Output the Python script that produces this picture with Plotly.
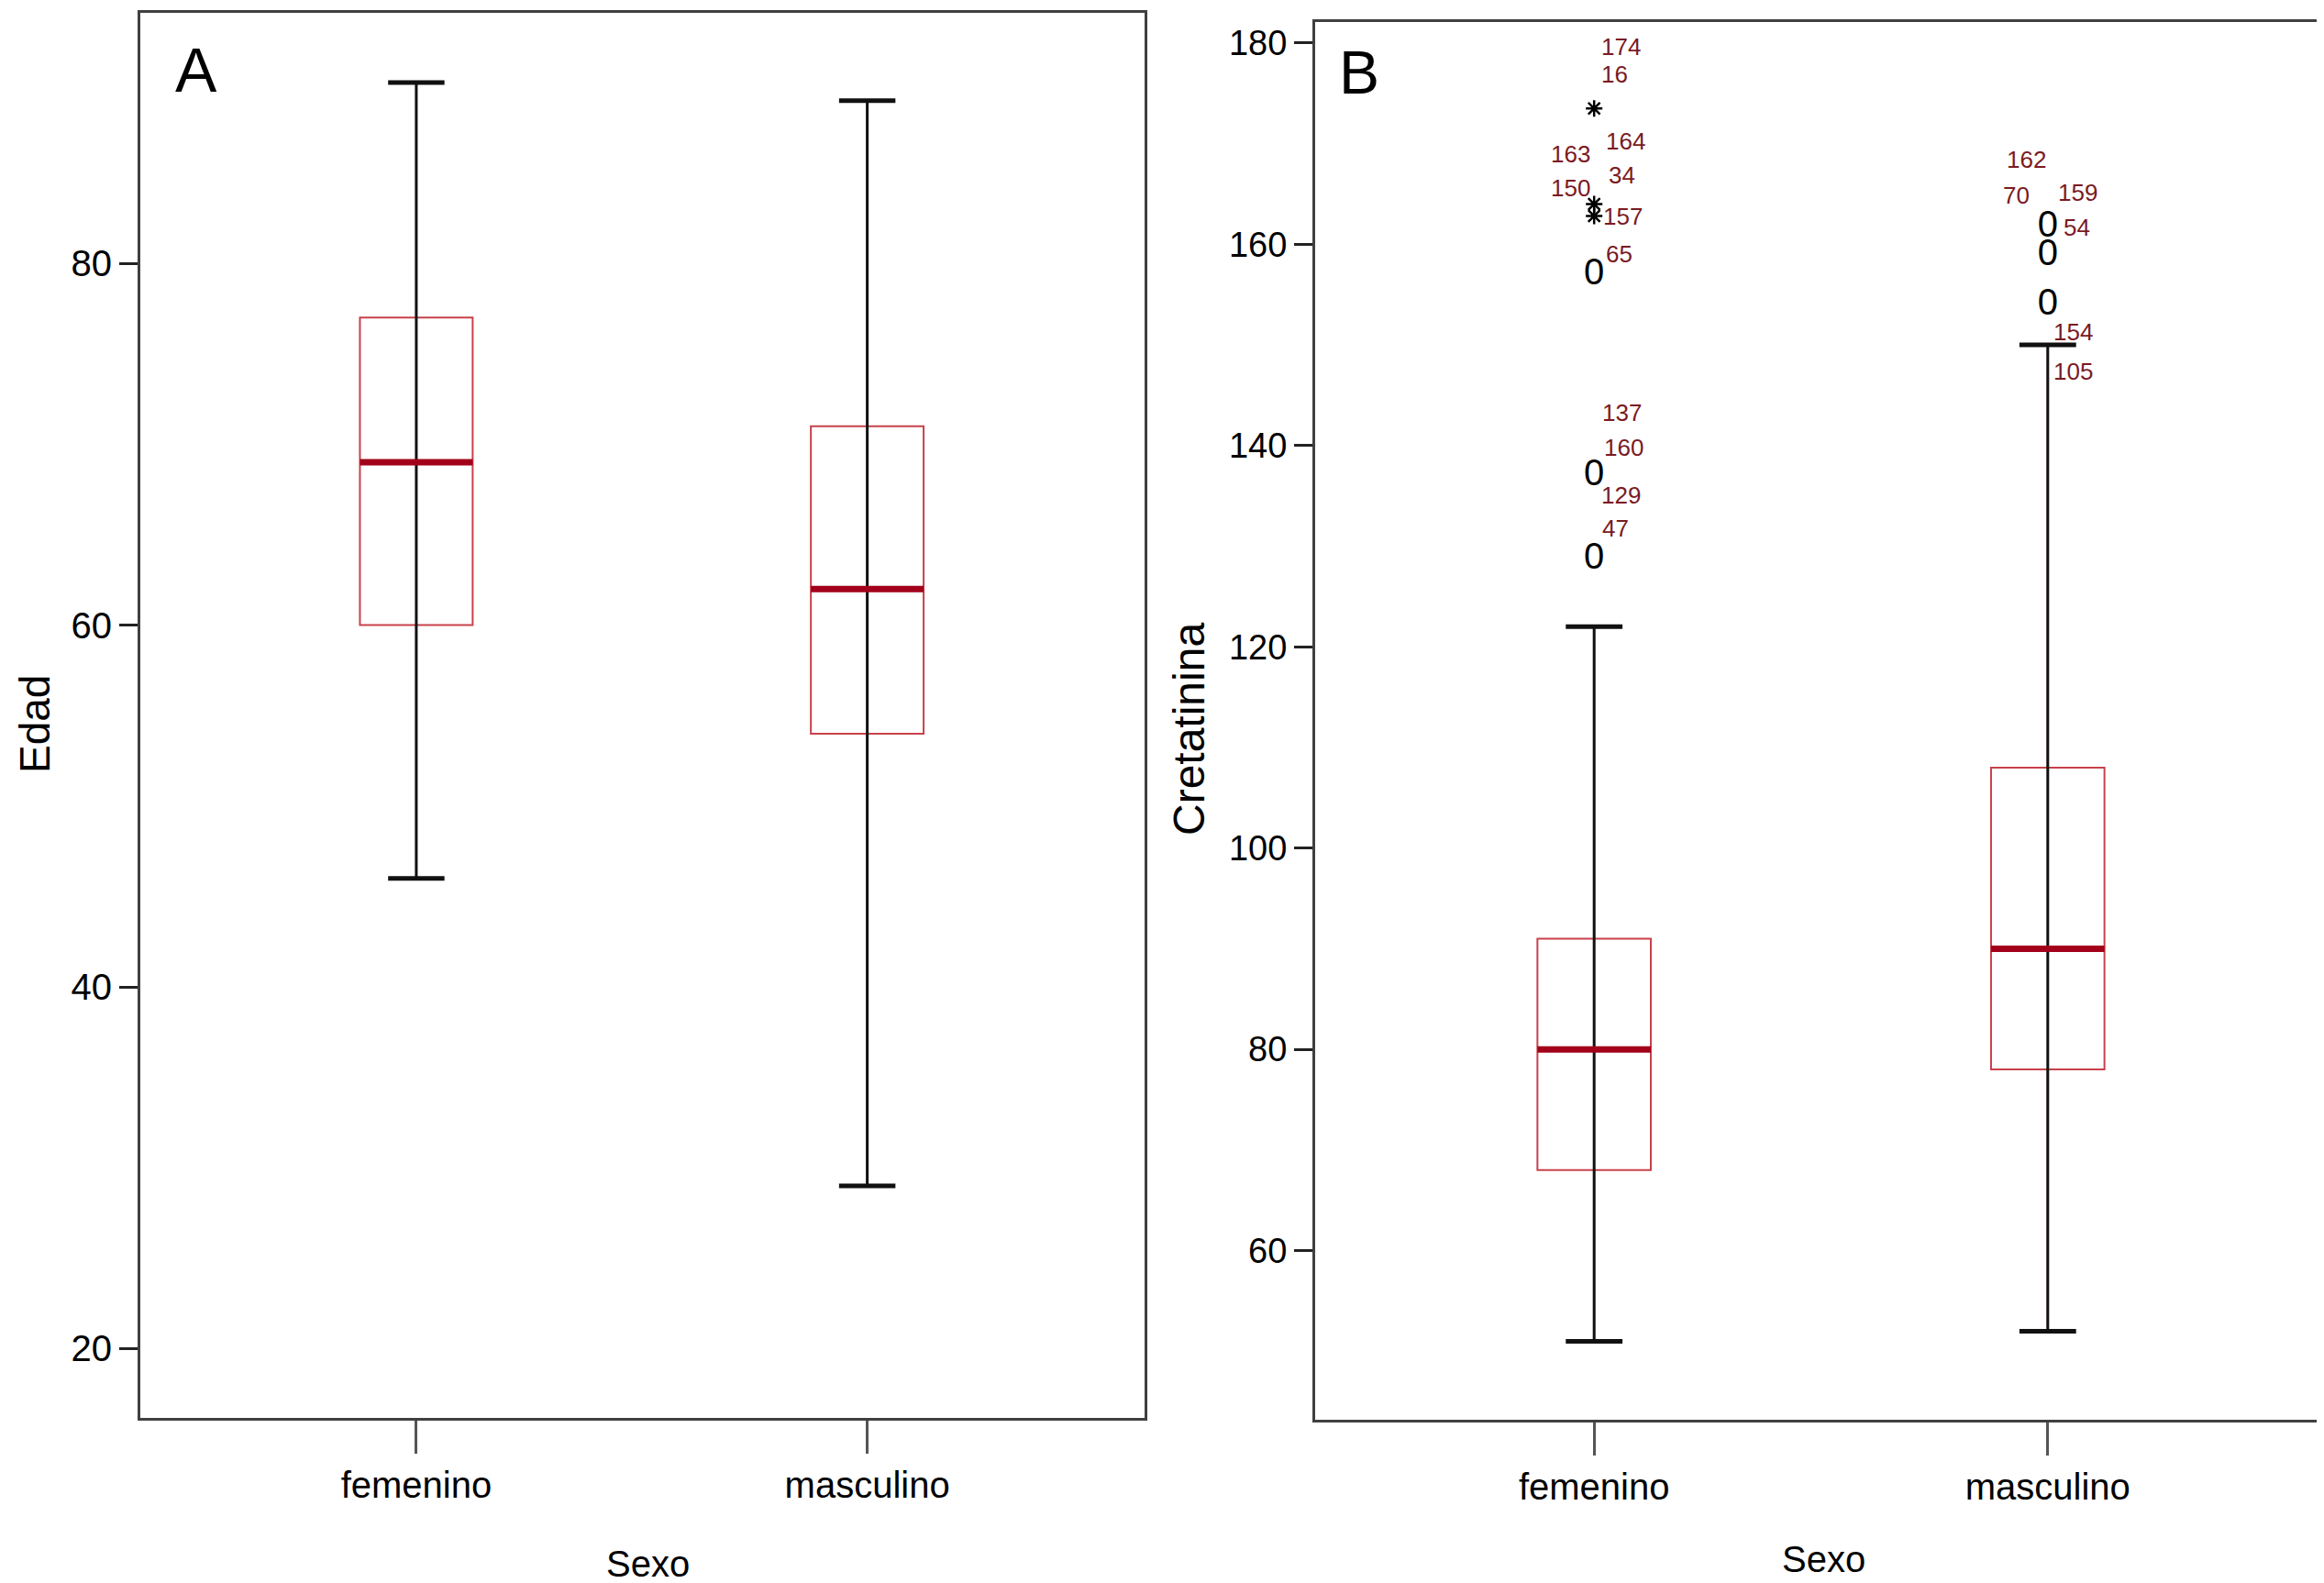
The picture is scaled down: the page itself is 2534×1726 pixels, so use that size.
import plotly.graph_objects as go

# ---------------- data ----------------
categories = ["femenino", "masculino"]
cat_pos = [0, 1]

# Panel A: Edad
edad_lower = [46, 29]
edad_q1 = [60, 54]
edad_median = [69, 62]
edad_q3 = [77, 71]
edad_upper = [90, 89]

# Panel B: Cretatinina
creat_lower = [51, 52]
creat_q1 = [68, 78]
creat_median = [80, 90]
creat_q3 = [91, 108]
creat_upper = [122, 150]

# outliers (Cretatinina)
fem_circle_vals = [156.9, 137.0, 128.7]
fem_star_vals = [173.5, 164.0, 162.8]
masc_circle_vals = [161.7, 158.8, 153.9]

# case-number labels (text, category index, value at which label sits)
label_text = ["174", "16", "164", "163", "34", "150", "157", "65", "137", "160", "129", "47",
              "162", "70", "159", "54", "154", "105"]
label_cat = [0, 0, 0, 0, 0, 0, 0, 0, 0, 0, 0, 0,
             1, 1, 1, 1, 1, 1]
label_val = [179.6, 176.9, 170.2, 169.0, 166.9, 165.6, 162.8, 159.0, 143.3, 139.8, 135.1, 131.8,
             168.4, 164.9, 165.1, 161.7, 151.3, 147.4]
# label placement (style): horizontal offset in category units and side
label_dx = [0.012, 0.012, 0.021, -0.004, 0.027, -0.004, 0.015, 0.021, 0.013, 0.018, 0.012, 0.014,
            0.0, -0.036, 0.019, 0.03, 0.008, 0.008]
label_side = ["left", "left", "left", "right", "left", "right", "left", "left", "left", "left", "left", "left",
              "right", "right", "left", "left", "left", "left"]

# ---------------- style ----------------
W, H = 2534, 1726
FONT = "Liberation Sans, Arial, sans-serif"
BOX_RED = "#c8414b"
MED_RED = "#a3001a"
LABEL_RED = "#7a1a22"
BOX_W = 0.25
CAP_HALF = 0.0625

fig = go.Figure()


def add_panel(xref, yref, lower, q1, med, q3, upper):
    fig.add_trace(go.Box(
        x=cat_pos, q1=q1, median=med, q3=q3, lowerfence=lower, upperfence=upper,
        width=BOX_W, whiskerwidth=0, boxpoints=False,
        line=dict(color=BOX_RED, width=2), fillcolor="rgba(0,0,0,0)",
        xaxis=xref, yaxis=yref, hoverinfo="skip", showlegend=False))
    # whiskers (black vertical line through the box)
    wx, wy = [], []
    for c, lo, hi in zip(cat_pos, lower, upper):
        wx += [c, c, None]
        wy += [lo, hi, None]
    fig.add_trace(go.Scatter(x=wx, y=wy, mode="lines", line=dict(color="#111111", width=3),
                             xaxis=xref, yaxis=yref, hoverinfo="skip", showlegend=False))
    # caps
    cx, cy = [], []
    for c, lo, hi in zip(cat_pos, lower, upper):
        cx += [c - CAP_HALF, c + CAP_HALF, None, c - CAP_HALF, c + CAP_HALF, None]
        cy += [lo, lo, None, hi, hi, None]
    fig.add_trace(go.Scatter(x=cx, y=cy, mode="lines", line=dict(color="#111111", width=5),
                             xaxis=xref, yaxis=yref, hoverinfo="skip", showlegend=False))
    # medians
    mx, my = [], []
    for c, m in zip(cat_pos, med):
        mx += [c - BOX_W / 2, c + BOX_W / 2, None]
        my += [m, m, None]
    fig.add_trace(go.Scatter(x=mx, y=my, mode="lines", line=dict(color=MED_RED, width=7),
                             xaxis=xref, yaxis=yref, hoverinfo="skip", showlegend=False))


add_panel("x", "y", edad_lower, edad_q1, edad_median, edad_q3, edad_upper)
add_panel("x2", "y2", creat_lower, creat_q1, creat_median, creat_q3, creat_upper)

# outliers: circles drawn as "0" glyphs, extremes as asterisks
circ_x = [cat_pos[0]] * len(fem_circle_vals) + [cat_pos[1]] * len(masc_circle_vals)
circ_y = fem_circle_vals + masc_circle_vals
fig.add_trace(go.Scatter(x=circ_x, y=circ_y, mode="text", text=["0"] * len(circ_y),
                         textposition="middle center",
                         textfont=dict(family=FONT, size=40, color="#000000"),
                         xaxis="x2", yaxis="y2", hoverinfo="skip", showlegend=False))
fig.add_trace(go.Scatter(x=[cat_pos[0]] * len(fem_star_vals), y=fem_star_vals, mode="markers",
                         marker=dict(symbol="asterisk-open", size=15, color="#000000",
                                     line=dict(color="#000000", width=2.5)),
                         xaxis="x2", yaxis="y2", hoverinfo="skip", showlegend=False))

annotations = []
for t, c, v, dx, side in zip(label_text, label_cat, label_val, label_dx, label_side):
    annotations.append(dict(x=cat_pos[c] + dx, y=v, xref="x2", yref="y2", text=t,
                            showarrow=False, xanchor=side, yanchor="middle",
                            font=dict(family=FONT, size=26, color=LABEL_RED)))

# axis titles and panel letters
annotations += [
    dict(text="Edad", x=30 / W, y=1 - 782 / H, xref="paper", yref="paper", textangle=-90,
         showarrow=False, xanchor="center", yanchor="middle", font=dict(family=FONT, size=46, color="#000")),
    dict(text="Cretatinina", x=1288 / W, y=1 - 787 / H, xref="paper", yref="paper", textangle=-90,
         showarrow=False, xanchor="center", yanchor="middle", font=dict(family=FONT, size=48, color="#000")),
    dict(text="Sexo", x=698 / W, y=1 - 1697 / H, xref="paper", yref="paper",
         showarrow=False, xanchor="center", yanchor="middle", font=dict(family=FONT, size=40, color="#000")),
    dict(text="Sexo", x=1981 / W, y=1 - 1692 / H, xref="paper", yref="paper",
         showarrow=False, xanchor="center", yanchor="middle", font=dict(family=FONT, size=40, color="#000")),
    dict(text="A", x=206 / W, y=1 - 68 / H, xref="paper", yref="paper",
         showarrow=False, xanchor="center", yanchor="middle", font=dict(family=FONT, size=68, color="#000")),
    dict(text="B", x=1474 / W, y=1 - 71 / H, xref="paper", yref="paper",
         showarrow=False, xanchor="center", yanchor="middle", font=dict(family=FONT, size=66, color="#000")),
]

common_x = dict(showline=True, mirror=True, linecolor="#404040", linewidth=3, showgrid=False,
                zeroline=False, ticks="outside", ticklen=36, tickwidth=2.5, tickcolor="#555555",
                tickvals=cat_pos, ticktext=categories, tickfont=dict(family=FONT, size=40, color="#000"))
common_y = dict(showline=True, mirror=True, linecolor="#404040", linewidth=3, showgrid=False,
                zeroline=False, ticks="outside", ticklen=20, tickwidth=3, tickcolor="#222222")

fig.update_layout(
    width=W, height=H, margin=dict(l=0, r=0, t=0, b=0),
    paper_bgcolor="white", plot_bgcolor="white", showlegend=False,
    xaxis=dict(domain=[145 / W, 1240 / W], range=[-0.612, 1.615], anchor="y", **common_x),
    yaxis=dict(domain=[1 - 1538 / H, 1 - 6 / H], range=[16.17, 93.85], anchor="x",
               tickvals=[20, 40, 60, 80], tickfont=dict(family=FONT, size=40, color="#000"), **common_y),
    xaxis2=dict(domain=[1426 / W, 2528 / W], range=[-0.615, 1.613], anchor="y2", **common_x),
    yaxis2=dict(domain=[1 - 1540 / H, 1 - 16 / H], range=[43.2, 182.08], anchor="x2",
                tickvals=[60, 80, 100, 120, 140, 160, 180],
                tickfont=dict(family=FONT, size=38, color="#000"), **common_y),
    annotations=annotations,
)

fig.write_html("out.html")
